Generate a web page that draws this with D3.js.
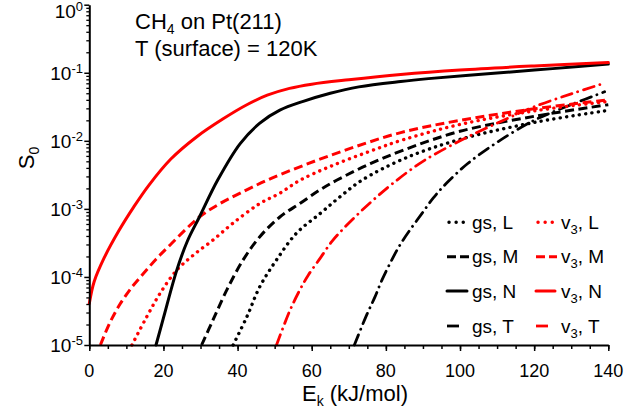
<!DOCTYPE html>
<html><head><meta charset="utf-8">
<script src="https://cdn.jsdelivr.net/npm/d3@7"></script>
<style>body{margin:0;background:#fff}svg{display:block}text{font-family:"Liberation Sans",Arial,Helvetica,sans-serif;fill:#000}</style>
</head><body><svg id="c" width="627" height="412"></svg>
<script>
// Data (E_k in kJ/mol, S0)
const gsN_E = [18, 20, 23.6, 26.5, 29.7, 34.6, 40.7, 46, 51.4, 57.7, 65, 72.7, 84, 91.5, 110, 125, 140];
const gsN_S = [1e-5, 2.5e-5, 1.26e-4, 3.4e-4, 7.6e-4, 2.63e-3, 9.1e-3, 0.0182, 0.0282, 0.038, 0.050, 0.062, 0.0745, 0.082, 0.099, 0.115, 0.134];
const v3N_E = [0, 1.3, 4, 8, 12, 16, 22, 29, 36, 42.5, 48, 54, 60, 70, 84, 100, 120, 140];
const v3N_S = [4.07e-5, 8.5e-5, 1.9e-4, 4.8e-4, 1.07e-3, 2.2e-3, 5.4e-3, 0.0115, 0.0209, 0.0339, 0.0468, 0.059, 0.068, 0.079, 0.0945, 0.11, 0.126, 0.141];
const v3M_E = [3, 5.5, 8.3, 11.5, 14.6, 18, 21.8, 29.7, 35.3, 40.7, 47.9, 58, 70, 84, 100, 120, 140];
const v3M_S = [1e-5, 2.1e-5, 4.0e-5, 7.1e-5, 1.12e-4, 1.82e-4, 2.95e-4, 7.6e-4, 1.2e-3, 1.7e-3, 2.63e-3, 4.4e-3, 7.6e-3, 0.0132, 0.020, 0.0295, 0.040];
const v3L_E = [11.5, 15.5, 19.1, 23.6, 28.1, 33.4, 38.8, 46, 51.4, 56.8, 65, 75, 85, 100, 120, 140];
const v3L_S = [1e-5, 2.6e-5, 5.75e-5, 1.26e-4, 2.1e-4, 3.5e-4, 6.2e-4, 1.2e-3, 1.7e-3, 2.63e-3, 4.2e-3, 6.8e-3, 0.0105, 0.0174, 0.0275, 0.038];
const gsM_E = [30.3, 33.4, 37.1, 41.5, 46, 51.4, 56.8, 62.2, 66.7, 75, 85, 100, 120, 140];
const gsM_S = [1e-5, 2.35e-5, 6.45e-5, 1.78e-4, 3.9e-4, 7.6e-4, 1.2e-3, 1.9e-3, 2.63e-3, 4.4e-3, 7.4e-3, 0.0138, 0.0229, 0.034];
const gsL_E = [38.8, 42.5, 46, 50.5, 55.9, 62.2, 67.6, 73.5, 85, 100, 120, 140];
const gsL_S = [1e-5, 2.6e-5, 7.2e-5, 1.78e-4, 4.4e-4, 8.5e-4, 1.5e-3, 2.63e-3, 5.5e-3, 0.0105, 0.0186, 0.028];
const gsT_E = [71.5, 74.8, 77, 78.9, 81.6, 83.8, 86.5, 89.7, 92.8, 96.4, 102, 110, 120, 130, 139];
const gsT_S = [1e-5, 2.75e-5, 5e-5, 8.9e-5, 1.78e-4, 2.95e-4, 4.9e-4, 8.5e-4, 1.45e-3, 2.4e-3, 4.6e-3, 9.5e-3, 0.020, 0.034, 0.0525];
const v3T_E = [50.5, 54.1, 56.8, 59.1, 62.2, 65.4, 68.5, 72.6, 76.6, 82, 90, 100, 110, 120, 130, 138];
const v3T_S = [1e-5, 3.2e-5, 6.45e-5, 1.07e-4, 1.86e-4, 3.3e-4, 5.1e-4, 8.5e-4, 1.35e-3, 2.4e-3, 5e-3, 0.01, 0.0182, 0.0316, 0.049, 0.0676];

const xTicks = [0, 20, 40, 60, 80, 100, 120, 140];
const yTickExps = [0, -1, -2, -3, -4, -5];
const legendLabels = ["L", "M", "N", "T"];

const svg = d3.select("#c");
const x = d3.scaleLinear().domain([0, 140]).range([89.3, 608.3]);
const y = d3.scaleLog().domain([1e-5, 1]).range([345, 4.7]);

const styles = {
  L: {dash: "0.1 6.3", cap: "round", w: 3.4},
  M: {dash: "9 4.5", cap: "butt", w: 3},
  N: {dash: null, cap: "round", w: 3},
  T: {dash: "11 6 0.1 6", cap: "round", w: 2.8}
};
const series = [
  {E: gsL_E, S: gsL_S, c: "#000", k: "L"},
  {E: gsM_E, S: gsM_S, c: "#000", k: "M"},
  {E: gsT_E, S: gsT_S, c: "#000", k: "T"},
  {E: v3L_E, S: v3L_S, c: "#ff0000", k: "L"},
  {E: v3M_E, S: v3M_S, c: "#ff0000", k: "M"},
  {E: v3T_E, S: v3T_S, c: "#ff0000", k: "T"},
  {E: gsN_E, S: gsN_S, c: "#000", k: "N"},
  {E: v3N_E, S: v3N_S, c: "#ff0000", k: "N"}
];
const line = d3.line().x(d => x(d[0])).y(d => y(d[1])).curve(d3.curveCatmullRom.alpha(0.5));
const gL = svg.append("g");
series.forEach(s => {
  const st = styles[s.k];
  const p = gL.append("path").attr("d", line(s.E.map((e, i) => [e, s.S[i]])))
    .attr("fill", "none").attr("stroke", s.c).attr("stroke-width", st.w)
    .attr("stroke-linecap", st.cap).attr("stroke-linejoin", "round");
  if (st.dash) p.attr("stroke-dasharray", st.dash);
});

// axes
const xMinor = d3.range(0, 141, 5);
svg.append("g").attr("transform", "translate(0,345)")
  .call(d3.axisBottom(x).tickValues(xMinor).tickFormat("").tickSize(4).tickSizeOuter(0))
  .call(g => g.select(".domain").attr("stroke-width", 2))
  .call(g => g.selectAll(".tick line").attr("stroke-width", 1.5));
svg.append("g").attr("transform", "translate(0,345)")
  .call(d3.axisBottom(x).tickValues(xTicks).tickFormat("").tickSize(6).tickSizeOuter(0))
  .call(g => g.select(".domain").remove())
  .call(g => g.selectAll(".tick line").attr("stroke-width", 1.5));
svg.append("g").selectAll("text").data(xTicks).join("text")
  .attr("x", d => x(d)).attr("y", 377).attr("text-anchor", "middle")
  .attr("font-size", 18).text(d => d);

const yMinor = [];
for (let e = -5; e < 0; e++) for (let m = 2; m <= 9; m++) yMinor.push(m * Math.pow(10, e));
svg.append("g").attr("transform", "translate(89.3,0)")
  .call(d3.axisLeft(y).tickValues(yMinor).tickFormat("").tickSize(3).tickSizeOuter(0))
  .call(g => g.select(".domain").attr("stroke-width", 2))
  .call(g => g.selectAll(".tick line").attr("stroke-width", 1.3));
svg.append("g").attr("transform", "translate(89.3,0)")
  .call(d3.axisLeft(y).tickValues(yTickExps.map(e => Math.pow(10, e))).tickFormat("").tickSize(5).tickSizeOuter(0))
  .call(g => g.select(".domain").remove())
  .call(g => g.selectAll(".tick line").attr("stroke-width", 1.5));
const yl = svg.append("g").selectAll("text").data(yTickExps).join("text")
  .attr("x", 83).attr("y", d => d === 0 ? 18 : y(Math.pow(10, d)) + 7).attr("text-anchor", "end").attr("font-size", 19);
yl.append("tspan").text("10");
yl.append("tspan").attr("dy", -7).attr("font-size", 13).text(d => d === 0 ? "0" : "-" + (-d));

// axis titles
svg.append("text").attr("transform", "translate(34,158) rotate(-90)").attr("text-anchor", "middle")
  .attr("font-size", 22).call(t => {
    t.append("tspan").text("S");
    t.append("tspan").attr("dy", 5).attr("font-size", 14).text("0");
  });
svg.append("text").attr("x", 355).attr("y", 401).attr("text-anchor", "middle").attr("font-size", 22)
  .call(t => {
    t.append("tspan").text("E");
    t.append("tspan").attr("dy", 5).attr("font-size", 14).text("k");
    t.append("tspan").attr("dy", -5).text(" (kJ/mol)");
  });

// title
svg.append("text").attr("x", 135).attr("y", 29).attr("font-size", 22).call(t => {
  t.append("tspan").text("CH");
  t.append("tspan").attr("dy", 5).attr("font-size", 14).text("4");
  t.append("tspan").attr("dy", -5).text(" on Pt(211)");
});
svg.append("text").attr("x", 135).attr("y", 56).attr("font-size", 22).text("T (surface) = 120K");

// legend
const rowY = [222.3, 256.7, 291, 326];
const cols = [
  {sx: 447, ex: 469, tx: 472, c: "#000", pre: "gs"},
  {sx: 536, ex: 557, tx: 561, c: "#ff0000", pre: "v"}
];
cols.forEach(col => {
  legendLabels.forEach((k, i) => {
    const st = styles[k];
    let sx = col.sx, ex = col.ex;
    if (k === "T") ex = sx + 12;
    if (k === "N") ex = col.ex - 2;
    const seg = svg.append("line").attr("x1", sx).attr("x2", ex).attr("y1", rowY[i]).attr("y2", rowY[i])
      .attr("stroke", col.c).attr("stroke-width", st.w).attr("stroke-linecap", k === "T" ? "butt" : st.cap);
    if (k === "L") seg.attr("stroke-dasharray", "0.1 7").attr("x1", sx + 2);
    if (k === "M") seg.attr("stroke-dasharray", "9 4");
    const t = svg.append("text").attr("x", col.tx).attr("y", rowY[i] + 6.5).attr("font-size", 19);
    if (col.pre === "gs") t.text("gs, " + k);
    else {
      t.append("tspan").text("v");
      t.append("tspan").attr("dy", 5).attr("font-size", 13).text("3");
      t.append("tspan").attr("dy", -5).text(", " + k);
    }
  });
});
</script></body></html>
